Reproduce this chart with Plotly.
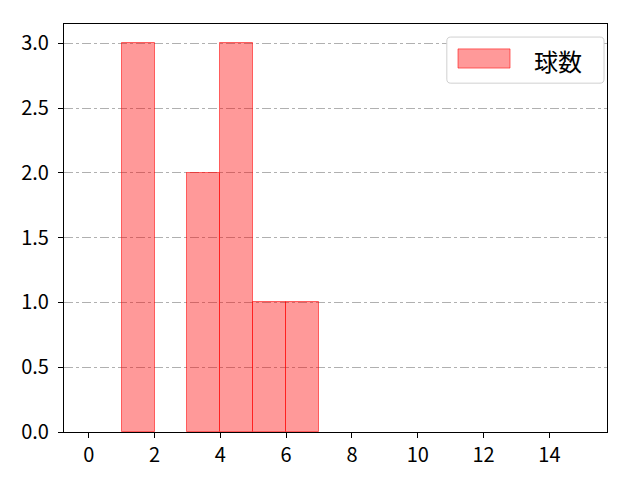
import plotly.graph_objects as go

# histogram bins (left edges), bin width and counts
bin_left = [1, 3, 4, 5, 6]
bin_width = [1, 1, 1, 1, 1]
counts = [3, 2, 3, 1, 1]
series_name = '球数'

x_ticks = [0, 2, 4, 6, 8, 10, 12, 14]
y_ticks = [0.0, 0.5, 1.0, 1.5, 2.0, 2.5, 3.0]

FILL = 'rgba(255,0,0,0.4)'
EDGE = 'rgba(255,0,0,0.55)'

fig = go.Figure()
fig.add_trace(go.Bar(
    x=bin_left,
    y=counts,
    width=bin_width,
    offset=0,
    name=series_name,
    marker={'color': FILL, 'line': {'color': EDGE, 'width': 1}},
    showlegend=False,
))


def rounded_box(x0, x1, y0, y1, rx=0.0074, ry=0.0098):
    return (f'M {x0+rx},{y0} L {x1-rx},{y0} Q {x1},{y0} {x1},{y0+ry} '
            f'L {x1},{y1-ry} Q {x1},{y1} {x1-rx},{y1} '
            f'L {x0+rx},{y1} Q {x0},{y1} {x0},{y1-ry} '
            f'L {x0},{y0+ry} Q {x0},{y0} {x0+rx},{y0} Z')


# legend drawn by hand to get the wide matplotlib-style patch
fig.add_shape(type='path', xref='paper', yref='paper',
              path=rounded_box(0.705, 0.9945, 0.855, 0.968),
              line={'color': '#d0d0d0', 'width': 1}, fillcolor='white',
              layer='above')
fig.add_shape(type='rect', xref='paper', yref='paper',
              x0=0.7256, x1=0.8214, y0=0.892, y1=0.939,
              line={'color': EDGE, 'width': 1}, fillcolor=FILL,
              layer='above')
fig.add_annotation(xref='paper', yref='paper', x=0.862, y=0.916,
                   xanchor='left', yshift=17,
                   text=series_name, showarrow=False,
                   font={'size': 24, 'color': 'black'})

fig.update_layout(
    width=640,
    height=480,
    margin={'l': 56, 'r': 41, 't': 16, 'b': 56},
    paper_bgcolor='white',
    plot_bgcolor='white',
    font={'family': 'Noto Sans CJK JP', 'size': 20, 'color': 'black'},
    bargap=0,
    showlegend=False,
    xaxis={'range': [-0.75, 15.75],
           'tickvals': x_ticks,
           'ticktext': [str(v) for v in x_ticks],
           'showgrid': False,
           'zeroline': False,
           'showline': True, 'linecolor': 'black', 'linewidth': 1.2,
           'mirror': True,
           'ticks': 'outside', 'ticklen': 5, 'tickcolor': 'black'},
    yaxis={'range': [0, 3.15],
           'tickvals': y_ticks,
           'ticktext': ['%.1f' % v for v in y_ticks],
           'showgrid': True, 'gridcolor': '#b0b0b0', 'griddash': 'dashdot',
           'gridwidth': 1,
           'zeroline': False,
           'showline': True, 'linecolor': 'black', 'linewidth': 1.2,
           'mirror': True,
           'ticks': 'outside', 'ticklen': 5, 'tickcolor': 'black',
           'ticklabelstandoff': 5,
           'layer': 'above traces'},
)

fig.write_html("out.html")
